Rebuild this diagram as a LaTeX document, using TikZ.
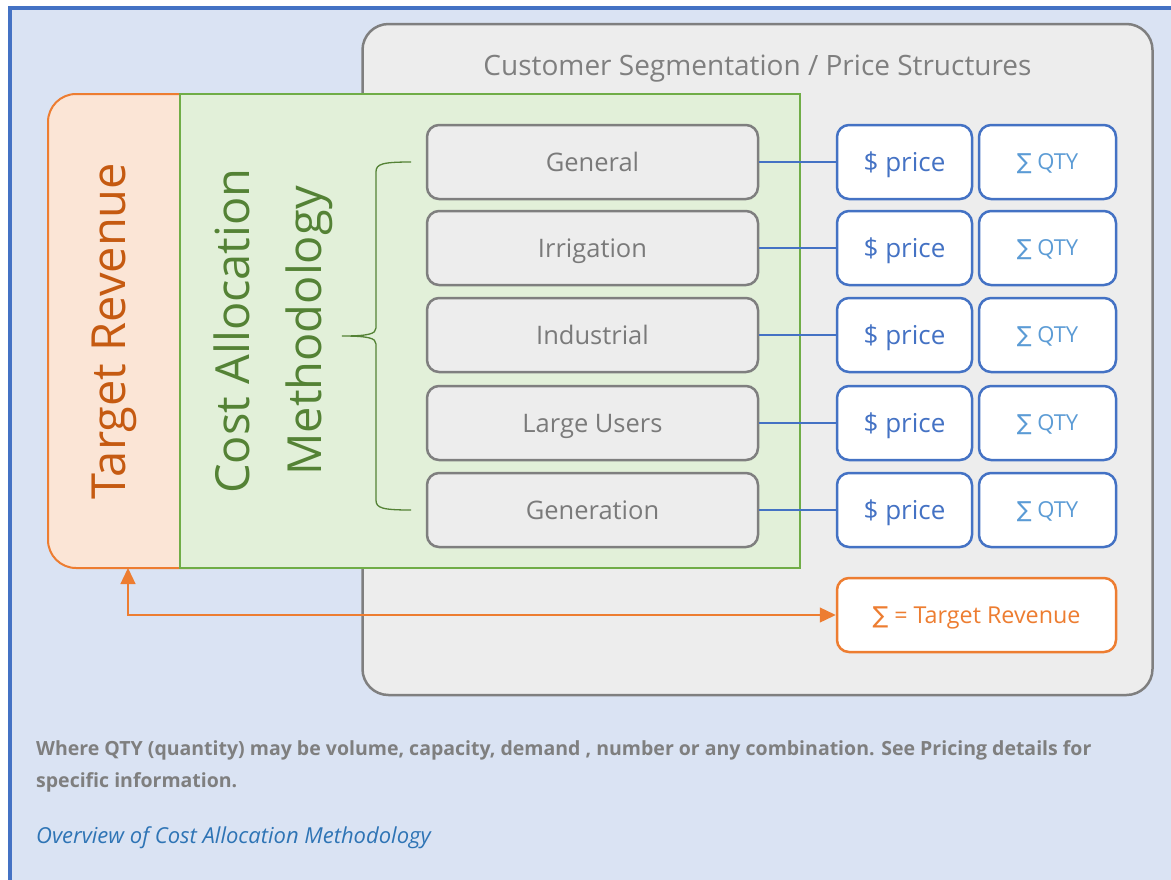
\documentclass[tikz,border=0pt]{standalone}
\usepackage{fontspec}
\setmainfont{Open Sans}
\newfontfamily\sumfont{DejaVu Sans}
\usepackage{tikz}
\usetikzlibrary{arrows.meta}

\definecolor{frameblue}{HTML}{4472C4}
\definecolor{bgblue}{HTML}{DAE3F3}
\definecolor{panelgray}{HTML}{EDEDED}
\definecolor{linegray}{HTML}{7F7F7F}
\definecolor{textgray}{HTML}{7A7A7A}
\definecolor{revfill}{HTML}{FBE5D6}
\definecolor{revline}{HTML}{ED7D31}
\definecolor{revtext}{HTML}{C55A11}
\definecolor{costfill}{HTML}{E2F0D9}
\definecolor{costline}{HTML}{70AD47}
\definecolor{costtext}{HTML}{548235}
\definecolor{qtyblue}{HTML}{5B9BD5}
\definecolor{linkblue}{HTML}{2E74B5}

\newcommand{\sumsign}{{\sumfont\char"2211}}

\begin{document}
\begin{tikzpicture}[x=1pt,y=-1pt,
    segbox/.style={draw=linegray, fill=panelgray, line width=2.5pt, rounded corners=12pt,
        minimum width=331pt, minimum height=74pt, inner sep=0pt, text=textgray,
        text height=18.2pt, text depth=0pt, font=\fontsize{25.5}{30}\selectfont},
    pricebox/.style={draw=frameblue, fill=white, line width=2.5pt, rounded corners=12pt,
        minimum width=135pt, minimum height=74pt, inner sep=0pt, text=frameblue,
        text height=18.6pt, text depth=0pt, font=\fontsize{26}{30}\selectfont},
    qtybox/.style={pricebox, minimum width=137pt, text=qtyblue,
        text height=15.7pt, font=\fontsize{22}{26}\selectfont},
    segline/.style={draw=frameblue, line width=1.3pt},
    revarrow/.style={draw=revline, line width=1.3pt,
        {Triangle[length=16pt,width=15pt]}-{Triangle[length=16pt,width=15pt]}}]

    \clip (0,0) rectangle (1171,879);
    \fill[white] (0,0) rectangle (1171,879);
    \draw[draw=frameblue, fill=bgblue, line width=3.5pt] (10,8) rectangle (1300,1000);

    \node[draw=linegray, fill=panelgray, line width=2.5pt, rounded corners=26pt,
        minimum width=790pt, minimum height=671pt] (panel) at (757.5,359.5) {};
    \node[text=linegray, text height=20pt, text depth=0pt,
        font=\fontsize{28}{32}\selectfont] (paneltitle) at (757.5,65) {Customer Segmentation / Price Structures};

    \node[draw=revline, fill=revfill, line width=2pt, rounded corners=28pt,
        minimum width=180pt, minimum height=474pt] (target) at (138,331) {};
    \node[rotate=90, text=revtext, font=\fontsize{47}{52}\selectfont] (targettext) at (114,331) {Target Revenue};

    \node[draw=costline, fill=costfill, line width=2pt,
        minimum width=620pt, minimum height=474pt] (cost) at (490,331) {};
    \node[rotate=90, text=costtext, align=center, font=\fontsize{47}{72}\selectfont] (costtext) at (273,331) {Cost Allocation\\Methodology};

    \draw[draw=costtext, line width=1.3pt] (411,162) .. controls (382,162) and (376,164) .. (376,172)
        -- (376,328) .. controls (376,334) and (368,336) .. (342,336)
        .. controls (368,336) and (376,338) .. (376,344)
        -- (376,500) .. controls (376,508) and (382,510) .. (411,510);

    \node[segbox] (general) at (592.5,162) {General};
    \node[segbox] (irrigation) at (592.5,248) {Irrigation};
    \node[segbox] (industrial) at (592.5,335) {Industrial};
    \node[segbox] (large) at (592.5,423) {Large Users};
    \node[segbox] (generation) at (592.5,510) {Generation};

    \node[pricebox] (pgeneral) at (904.5,162) {\$ price};
    \node[pricebox] (pirrigation) at (904.5,248) {\$ price};
    \node[pricebox] (pindustrial) at (904.5,335) {\$ price};
    \node[pricebox] (plarge) at (904.5,423) {\$ price};
    \node[pricebox] (pgeneration) at (904.5,510) {\$ price};

    \node[qtybox] (qgeneral) at (1047.5,162) {\sumsign{} QTY};
    \node[qtybox] (qirrigation) at (1047.5,248) {\sumsign{} QTY};
    \node[qtybox] (qindustrial) at (1047.5,335) {\sumsign{} QTY};
    \node[qtybox] (qlarge) at (1047.5,423) {\sumsign{} QTY};
    \node[qtybox] (qgeneration) at (1047.5,510) {\sumsign{} QTY};

    \draw[segline] (general) -- (pgeneral);
    \draw[segline] (irrigation) -- (pirrigation);
    \draw[segline] (industrial) -- (pindustrial);
    \draw[segline] (large) -- (plarge);
    \draw[segline] (generation) -- (pgeneration);

    \node[draw=revline, fill=white, line width=2.5pt, rounded corners=12pt,
        minimum width=279pt, minimum height=74pt, inner sep=0pt, text=revline,
        text height=16.6pt, text depth=0pt,
        font=\fontsize{23.3}{28}\selectfont] (sum) at (976.5,615) {\sumsign{} = Target Revenue};

    \coordinate (targetfoot) at (128,568);
    \draw[revarrow] (targetfoot) |- (sum.west);

    \node[anchor=north west, align=left, text=linegray, inner sep=0pt,
        font=\fontsize{19.5}{32}\selectfont\bfseries] (note) at (36,740)
        {Where QTY (quantity) may be volume, capacity, demand , number or any combination. See Pricing details for\\specific information.};
    \node[anchor=west, inner sep=0pt, text=linkblue,
        font=\fontsize{22}{26}\selectfont\itshape] (caption) at (36,838) {Overview of Cost Allocation Methodology};
\end{tikzpicture}
\end{document}
